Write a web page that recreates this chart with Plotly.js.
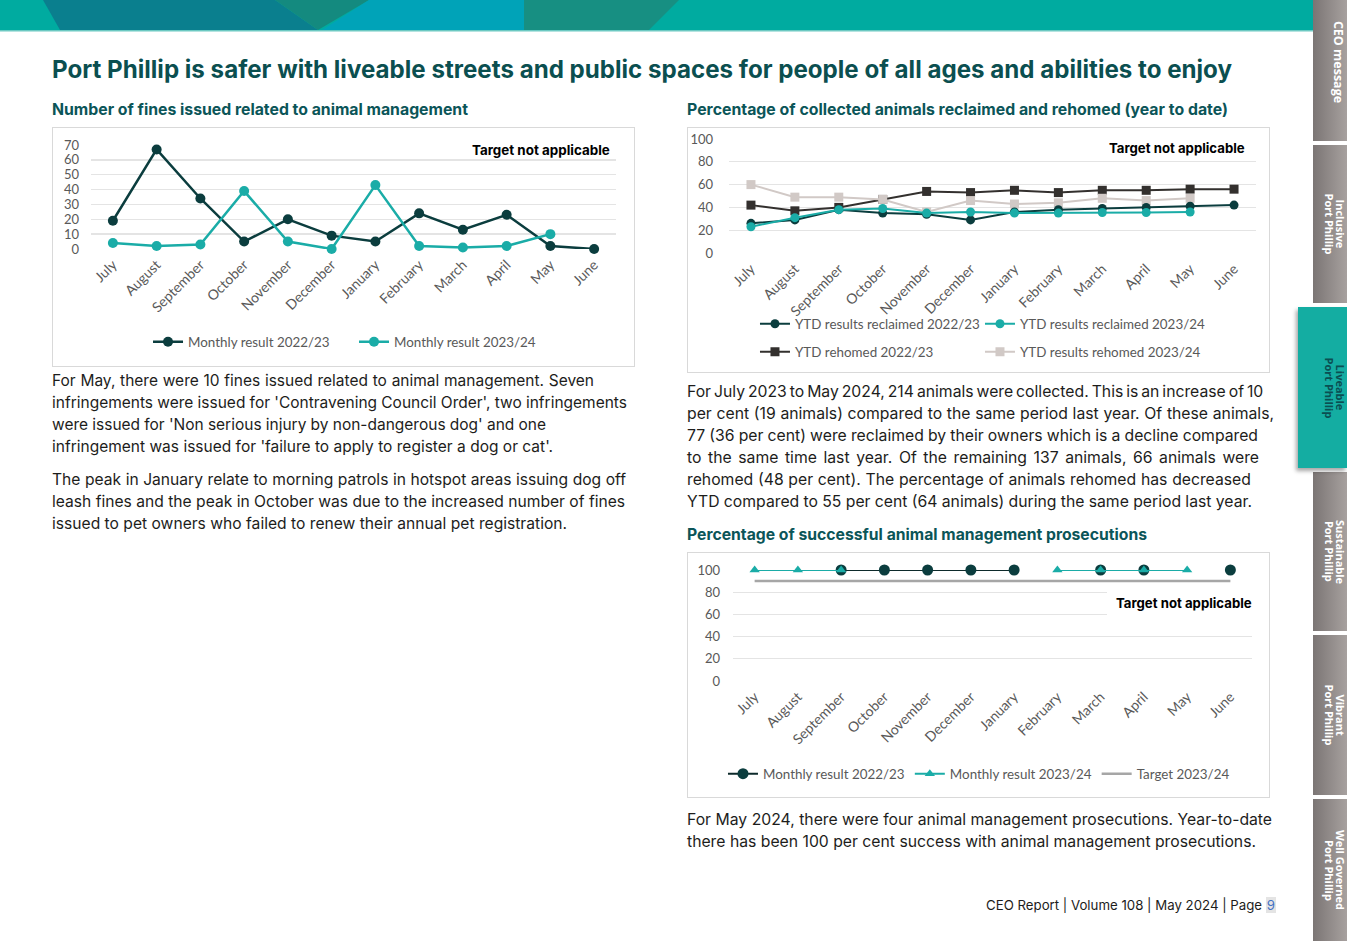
<!DOCTYPE html>
<html>
<head>
<meta charset="utf-8">
<script src="https://cdn.plot.ly/plotly-3.0.1.min.js"></script>
<style>
  html, body { margin:0; padding:0; background:#fff; }
  body { width:1347px; height:941px; position:relative; overflow:hidden; font-family:Inter, "Noto Sans", sans-serif; color:#1d1d1b; }
  .abs { position:absolute; }
  .title { left:52px; top:55px; line-height:30px; font-size:21px; font-weight:700; color:#0b4f50; white-space:nowrap; }
  .sub { line-height:20px; font-size:14.5px; font-weight:700; color:#0b5558; white-space:nowrap; }
  .para { font-size:15px; line-height:22px; color:#1d1d1b; }
  .ln { display:block; width:max-content; white-space:nowrap; }
  .box { border:1px solid #d9d9d9; box-sizing:border-box; background:#fff; }
  .tab { position:absolute; left:1313px; width:34px; overflow:hidden; background:linear-gradient(to right,#7b7574,#a7a19f); }
  .tab .tx { position:absolute; top:50%; right:1px; writing-mode:vertical-rl; transform:translateY(-50%); font-family:"Open Sans", sans-serif; font-weight:700; font-size:11px; line-height:11.5px; color:#fff; white-space:nowrap; text-align:center; }
  .tab .tx.one { font-size:12.5px; line-height:14px; right:2px; }
  .tab.active { left:1298px; width:49px; background:#14ada2; box-shadow:-2px 3px 4px rgba(0,0,0,0.35); }
  .tab.active .tx { color:#0b4f52; }
  .footer { font-size:14px; line-height:20px; white-space:nowrap; color:#1d1d1b; }
  .footer .pg { color:#4472c4; background:#e4e4e4; padding:0 1px; }
</style>
</head>
<body>

<!-- top banner -->
<svg class="abs" style="left:0;top:0" width="1313" height="32">
  <rect x="0" y="0" width="1313" height="30" fill="#00aba0"/>
  <polygon points="43,0 275,0 318,30 60,30" fill="#0a7f8e"/>
  <polygon points="275,0 369,0 318,30" fill="#148a7f"/>
  <polygon points="369,0 524,0 524,30 322,30" fill="#00a3b8"/>
  <polygon points="524,0 679,0 649,30 524,30" fill="#178f82"/>
  <rect x="0" y="30" width="1313" height="1.5" fill="#6cc9c2"/>
</svg>

<!-- side tabs -->
<div class="tab" style="top:0;height:141px"><div class="tx one" style="margin-top:-9px">CEO message</div></div>
<div class="tab" style="top:145px;height:158px"><div class="tx">Inclusive<br>Port Phillip</div></div>
<div class="tab" style="top:472px;height:159px"><div class="tx">Sustainable<br>Port Phillip</div></div>
<div class="tab" style="top:635px;height:160px"><div class="tx">Vibrant<br>Port Phillip</div></div>
<div class="tab" style="top:799px;height:142px"><div class="tx">Well Governed<br>Port Phillip</div></div>
<div class="tab active" style="top:307px;height:161px"><div class="tx">Liveable<br>Port Phillip</div></div>

<!-- headings -->
<div id="title" class="abs title"><span class="ln">Port Phillip is safer with liveable streets and public spaces for people of all ages and abilities to enjoy</span></div>
<div id="sub1" class="abs sub" style="left:52px;top:100px"><span class="ln">Number of fines issued related to animal management</span></div>
<div id="sub2" class="abs sub" style="left:687px;top:100px"><span class="ln">Percentage of collected animals reclaimed and rehomed (year to date)</span></div>
<div id="sub3" class="abs sub" style="left:687px;top:525px"><span class="ln">Percentage of successful animal management prosecutions</span></div>

<!-- chart boxes -->
<div class="abs box" style="left:52px;top:127px;width:583px;height:240px"><div id="c1"></div></div>
<div class="abs box" style="left:687px;top:127px;width:583px;height:246px"><div id="c2"></div></div>
<div class="abs box" style="left:687px;top:552px;width:583px;height:246px"><div id="c3"></div></div>

<!-- paragraphs -->
<div id="p1" class="abs para" style="left:52px;top:370px">
  <span class="ln">For May, there were 10 fines issued related to animal management. Seven</span>
  <span class="ln">infringements were issued for 'Contravening Council Order', two infringements</span>
  <span class="ln">were issued for 'Non serious injury by non-dangerous dog' and one</span>
  <span class="ln">infringement was issued for 'failure to apply to register a dog or cat'.</span>
</div>
<div id="p2" class="abs para" style="left:52px;top:469px">
  <span class="ln">The peak in January relate to morning patrols in hotspot areas issuing dog off</span>
  <span class="ln">leash fines and the peak in October was due to the increased number of fines</span>
  <span class="ln">issued to pet owners who failed to renew their annual pet registration.</span>
</div>
<div id="p3" class="abs para" style="left:687px;top:381px">
  <span class="ln">For July 2023 to May 2024, 214 animals were collected. This is an increase of 10</span>
  <span class="ln">per cent (19 animals) compared to the same period last year. Of these animals,</span>
  <span class="ln">77 (36 per cent) were reclaimed by their owners which is a decline compared</span>
  <span class="ln">to the same time last year. Of the remaining 137 animals, 66 animals were</span>
  <span class="ln">rehomed (48 per cent). The percentage of animals rehomed has decreased</span>
  <span class="ln">YTD compared to 55 per cent (64 animals) during the same period last year.</span>
</div>
<div id="p4" class="abs para" style="left:687px;top:809px">
  <span class="ln">For May 2024, there were four animal management prosecutions. Year-to-date</span>
  <span class="ln">there has been 100 per cent success with animal management prosecutions.</span>
</div>
<div id="foot" class="abs footer" style="left:986px;top:895px"><span class="ln">CEO Report | Volume 108 | May 2024 | Page <span class="pg">9</span></span></div>

<script>
// ---------------- data ----------------
const months = ['July','August','September','October','November','December','January','February','March','April','May','June'];

// Chart 1: number of fines
const fines2223 = [19, 67, 34, 5, 20, 9, 5, 24, 13, 23, 2, 0];
const fines2324 = [4, 2, 3, 39, 5, 0, 43, 2, 1, 2, 10, null];

// Chart 2: % reclaimed / rehomed (YTD)
const reclaimed2223 = [26, 29, 38, 35, 34, 29, 36, 38, 39, 40, 41, 42];
const reclaimed2324 = [23, 31, 38, 39, 35, 36, 35, 35, 35.5, 35.5, 36, null];
const rehomed2223   = [42, 37, 40, 47, 54, 53, 55, 53, 55, 55, 56, 56];
const rehomed2324   = [60, 49, 49, 47, 36, 46, 43, 44, 48, 46, 48, null];

// Chart 3: % successful prosecutions
const prosec2223 = [null, null, 100, 100, 100, 100, 100, null, 100, 100, null, 100];
const prosec2324 = [100, 100, 100, null, null, null, null, 100, 100, 100, 100, null];
const target2324 = [90, 90, 90, 90, 90, 90, 90, 90, 90, 90, 90, 90];

const noteText = 'Target not applicable';

// ---------------- styles ----------------
const DARK = '#0b3d3e', TEAL = '#1aaca7', REH22 = '#33302e', REH23 = '#d1c9c6', TGT = '#a6a6a6';
const FONT = 'Lato, "Open Sans", sans-serif';
const tickFont = {family:FONT, size:13, color:'#595959'};
const xTickFont = {family:FONT, size:14, color:'#595959'};
const legFont = {family:FONT, size:13.4, color:'#595959'};
const config = {staticPlot:true, displayModeBar:false};

function xaxis() {
  return {type:'category', range:[-0.5, 11.5], showgrid:false, zeroline:false, showline:false,
          tickangle:-45, tickfont:xTickFont, ticks:'', ticklabelstandoff:4, fixedrange:true};
}
function yaxis(max, dtick, standoff) {
  return {range:[0, max], dtick:dtick, tick0:0, showgrid:true, gridcolor:'#e4e4e4', gridwidth:1.3,
          zeroline:false, showline:false, tickfont:tickFont, ticks:'', ticklabelstandoff:standoff, fixedrange:true};
}
function note(x, y, box, size) {
  return {
    shapes:[{type:'rect', xref:'paper', yref:'paper', x0:box[0], x1:box[1], y0:box[2], y1:box[3],
             fillcolor:'#fff', line:{width:0}, layer:'above'}],
    annotations:[{xref:'paper', yref:'paper', x:x, y:y, text:'<b>'+noteText+'</b>', showarrow:false,
                  font:{family:'Inter, sans-serif', size:size, color:'#000'}, xanchor:'center', yanchor:'middle'}]
  };
}

// ---------------- chart 1 ----------------
(function(){
  const n = note(0.858, 0.952, [0.7067, 1.002, 0.894, 1.077], 13.4);
  const traces = [
    {x:months, y:fines2223, name:'Monthly result 2022/23', type:'scatter', mode:'lines+markers',
     line:{color:DARK, width:2.5}, marker:{color:DARK, size:10}, cliponaxis:false},
    {x:months, y:fines2324, name:'Monthly result 2023/24', type:'scatter', mode:'lines+markers',
     line:{color:TEAL, width:2.5}, marker:{color:TEAL, size:10}, cliponaxis:false}
  ];
  const layout = {
    width:581, height:238, margin:{l:38, r:18, t:17, b:117, autoexpand:false},
    paper_bgcolor:'rgba(0,0,0,0)', plot_bgcolor:'rgba(0,0,0,0)',
    xaxis:xaxis(), yaxis:yaxis(70, 10, 11), showlegend:true,
    legend:{orientation:'h', x:0.1086, xanchor:'left', y:-0.894, yanchor:'middle', font:legFont,
            entrywidth:161, bgcolor:'rgba(0,0,0,0)'},
    shapes:n.shapes, annotations:n.annotations
  };
  Plotly.newPlot('c1', traces, layout, config);
})();

// ---------------- chart 2 ----------------
(function(){
  const n = note(0.851, 0.921, [0.704, 0.992, 0.833, 1.061], 13.2);
  const traces = [
    {x:months, y:rehomed2223, name:'YTD rehomed 2022/23', legend:'legend2', legendrank:1, type:'scatter', mode:'lines+markers',
     line:{color:REH22, width:2}, marker:{color:REH22, size:9, symbol:'square'}, cliponaxis:false},
    {x:months, y:rehomed2324, name:'YTD results rehomed 2023/24', legend:'legend2', legendrank:2, type:'scatter', mode:'lines+markers',
     line:{color:REH23, width:2}, marker:{color:REH23, size:9, symbol:'square'}, cliponaxis:false},
    {x:months, y:reclaimed2223, name:'YTD results reclaimed 2022/23', legend:'legend', legendrank:1, type:'scatter', mode:'lines+markers',
     line:{color:DARK, width:2}, marker:{color:DARK, size:9}, cliponaxis:false},
    {x:months, y:reclaimed2324, name:'YTD results reclaimed 2023/24', legend:'legend', legendrank:2, type:'scatter', mode:'lines+markers',
     line:{color:TEAL, width:2}, marker:{color:TEAL, size:9}, cliponaxis:false}
  ];
  const lg = (y) => ({orientation:'h', x:0.0493, xanchor:'left', y:y, yanchor:'middle', font:legFont,
                      entrywidth:180, bgcolor:'rgba(0,0,0,0)', traceorder:'normal'});
  const layout = {
    width:581, height:244, margin:{l:41, r:13, t:11, b:119, autoexpand:false},
    paper_bgcolor:'rgba(0,0,0,0)', plot_bgcolor:'rgba(0,0,0,0)',
    xaxis:xaxis(), yaxis:yaxis(100, 20, 15), showlegend:true,
    legend:lg(-0.623), legend2:lg(-0.868),
    shapes:n.shapes, annotations:n.annotations
  };
  Plotly.newPlot('c2', traces, layout, config);
})();

// ---------------- chart 3 ----------------
(function(){
  const n = note(0.869, 0.703, [0.7206, 1.002, 0.55, 0.847], 13.2);
  const traces = [
    {x:months, y:target2324, name:'Target 2023/24', legendrank:3, type:'scatter', mode:'lines',
     line:{color:TGT, width:2.5}},
    {x:months, y:prosec2223, name:'Monthly result 2022/23', legendrank:1, type:'scatter', mode:'lines+markers',
     line:{color:'#0d2a2b', width:2}, marker:{color:DARK, size:11}, cliponaxis:false, connectgaps:false},
    {x:months, y:prosec2324, name:'Monthly result 2023/24', legendrank:2, type:'scatter', mode:'lines+markers',
     line:{color:TEAL, width:2}, marker:{color:TEAL, size:9, symbol:'triangle-up'}, cliponaxis:false, connectgaps:false}
  ];
  const layout = {
    width:581, height:244, margin:{l:45, r:17, t:17, b:116, autoexpand:false},
    paper_bgcolor:'rgba(0,0,0,0)', plot_bgcolor:'rgba(0,0,0,0)',
    xaxis:xaxis(), yaxis:yaxis(100, 20, 12), showlegend:true,
    legend:{orientation:'h', x:-0.0193, xanchor:'left', y:-0.838, yanchor:'middle', font:legFont,
            bgcolor:'rgba(0,0,0,0)'},
    shapes:n.shapes, annotations:n.annotations
  };
  Plotly.newPlot('c3', traces, layout, config);
})();

// ---------------- text fitting to reference line widths ----------------
const textWidths = {
  title:[1180], sub1:[416], sub2:[541], sub3:[460],
  p1:[542, 575, 494, 501], p2:[574, 573, 515], p3:[572, 587, 571, 572, 564, 565], p4:[585, 569], foot:[290]
};
function fitBlock(id, targets) {
  const el = document.getElementById(id);
  const lines = Array.from(el.querySelectorAll(':scope > .ln'));
  const measure = () => lines.map(l => l.getBoundingClientRect().width);
  let w = measure();
  const fs = parseFloat(getComputedStyle(el).fontSize);
  const sT = targets.reduce((a,b)=>a+b,0), sW = w.reduce((a,b)=>a+b,0);
  el.style.fontSize = (fs*sT/sW).toFixed(2)+'px';
  w = measure();
  lines.forEach((l,i) => {
    const nsp = (l.textContent.match(/ /g)||[]).length;
    if (nsp) {
      let ws = (targets[i]-w[i])/nsp;
      ws = Math.max(-1.5, Math.min(2.5, ws));
      l.style.wordSpacing = ws.toFixed(2)+'px';
    }
  });
}
Object.keys(textWidths).forEach(k => fitBlock(k, textWidths[k]));
</script>
</body>
</html>
